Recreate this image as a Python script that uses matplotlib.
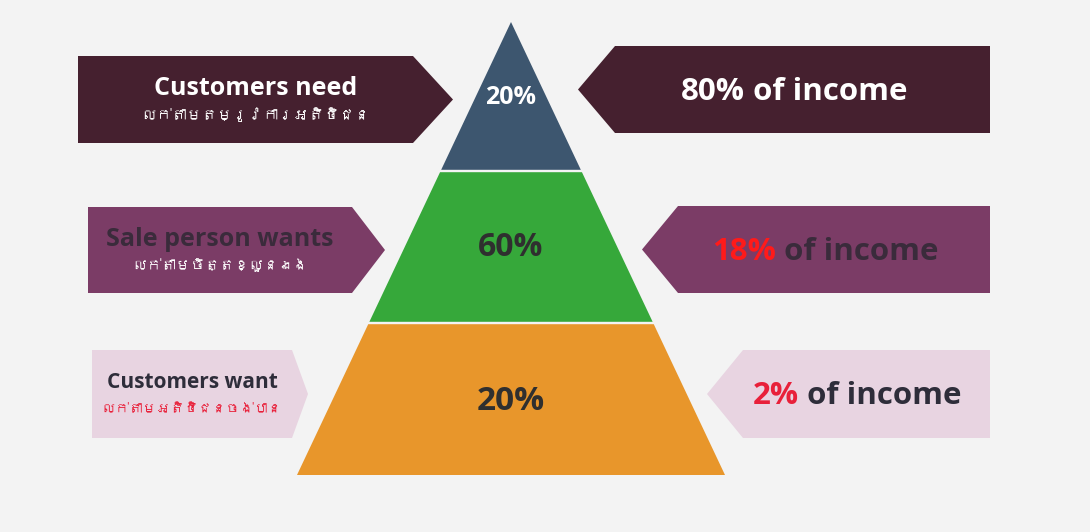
import matplotlib
matplotlib.use("Agg")
import matplotlib.pyplot as plt
from matplotlib.patches import Polygon
from matplotlib import font_manager
from matplotlib.ft2font import FT2Font

# pyramid levels, top to bottom
shares = ["20%", "60%", "20%"]
level_colors = ["#3d566f", "#36a83a", "#e8962b"]
share_colors = ["white", "#2f2f2f", "#2f2f2f"]

# left labels
left_en = ["Customers need", "Sale person wants", "Customers want"]
left_km = ["លក់តាមតម្រូវការអតិថិជន", "លក់តាមចិត្តខ្លួនឯង", "លក់តាមអតិថិជនចង់បាន"]
left_bg = ["#45202f", "#7b3c66", "#e8d4e1"]
left_en_color = ["white", "#3a2b3b", "#2e2d3a"]
left_km_color = ["white", "white", "#e8203a"]

# right labels
income = ["80%", "18%", "2%"]
income_color = ["white", "#ff1a1a", "#e8203a"]
income_rest_color = ["white", "#3a2b3b", "#2e2d3a"]
right_bg = ["#45202f", "#7b3c66", "#e8d4e1"]

# find a font that has Khmer glyphs, if any
khmer_font = None
for f in font_manager.fontManager.ttflist:
    try:
        if 0x1780 in FT2Font(f.fname).get_charmap():
            khmer_font = f.name
            break
    except Exception:
        pass
km_family = [khmer_font, "DejaVu Sans"] if khmer_font else ["DejaVu Sans"]

plt.rcParams['font.family'] = ["Open Sans", "DejaVu Sans"]

W, H = 1090, 532
fig = plt.figure(figsize=(W / 100, H / 100), dpi=100)
fig.patch.set_facecolor("#f3f3f3")
ax = fig.add_axes([0, 0, 1, 1])
ax.set_xlim(0, W)
ax.set_ylim(H, 0)
ax.axis("off")

# pyramid geometry (pixels)
apex_x, apex_y, base_y, base_half = 511, 22, 475, 214
bounds = [22, 171, 323, 475]
slope = base_half / (base_y - apex_y)
gap = 1.2

for i, share in enumerate(shares):
    y0 = bounds[i] + (gap if i > 0 else 0)
    y1 = bounds[i + 1] - (gap if i < len(shares) - 1 else 0)
    h0 = (y0 - apex_y) * slope
    h1 = (y1 - apex_y) * slope
    pts = [(apex_x - h0, y0), (apex_x + h0, y0), (apex_x + h1, y1), (apex_x - h1, y1)]
    ax.add_patch(Polygon(pts, closed=True, facecolor=level_colors[i], edgecolor="none"))

share_y = [98, 248, 402]
share_size = [18, 23, 24]
for i, share in enumerate(shares):
    ax.text(apex_x, share_y[i], share, ha="center", va="center", fontsize=share_size[i],
            fontweight="bold", color=share_colors[i])

# left arrows (pointing right)
left_boxes = [(78, 413, 453, 56, 143), (88, 352, 385, 207, 293), (92, 292, 308, 350, 438)]
en_size = [18, 18, 15]
km_size = [11, 10.5, 10]
for i, (x0, xr, tip, y0, y1) in enumerate(left_boxes):
    ym = (y0 + y1) / 2
    pts = [(x0, y0), (xr, y0), (tip, ym), (xr, y1), (x0, y1)]
    ax.add_patch(Polygon(pts, closed=True, facecolor=left_bg[i], edgecolor="none"))
    cx = (x0 + xr) / 2 + (10 if i == 0 else 0)
    ax.text(cx, ym - 11, left_en[i], ha="center", va="center", fontsize=en_size[i],
            fontweight="bold", color=left_en_color[i])
    ax.text(cx, ym + 15, left_km[i], ha="center", va="center", fontsize=km_size[i],
            fontweight="bold", color=left_km_color[i], family=km_family)

# right arrows (pointing left)
right_boxes = [(578, 615, 990, 46, 133), (642, 678, 990, 206, 293), (707, 743, 990, 350, 438)]
text_x = [681, 712, 753]
inc_size = [22.5, 22.5, 22.5]
for i, (tip, xl, x1, y0, y1) in enumerate(right_boxes):
    ym = (y0 + y1) / 2
    pts = [(tip, ym), (xl, y0), (x1, y0), (x1, y1), (xl, y1)]
    ax.add_patch(Polygon(pts, closed=True, facecolor=right_bg[i], edgecolor="none"))
    t = ax.text(text_x[i], ym + 2, income[i], ha="left", va="center", fontsize=inc_size[i],
                fontweight="bold", color=income_color[i])
    ax.annotate(" of income", xy=(1, 0.5), xycoords=t, ha="left", va="center",
                fontsize=inc_size[i], fontweight="bold", color=income_rest_color[i])

fig.savefig("out.png", dpi=100, facecolor=fig.get_facecolor())
